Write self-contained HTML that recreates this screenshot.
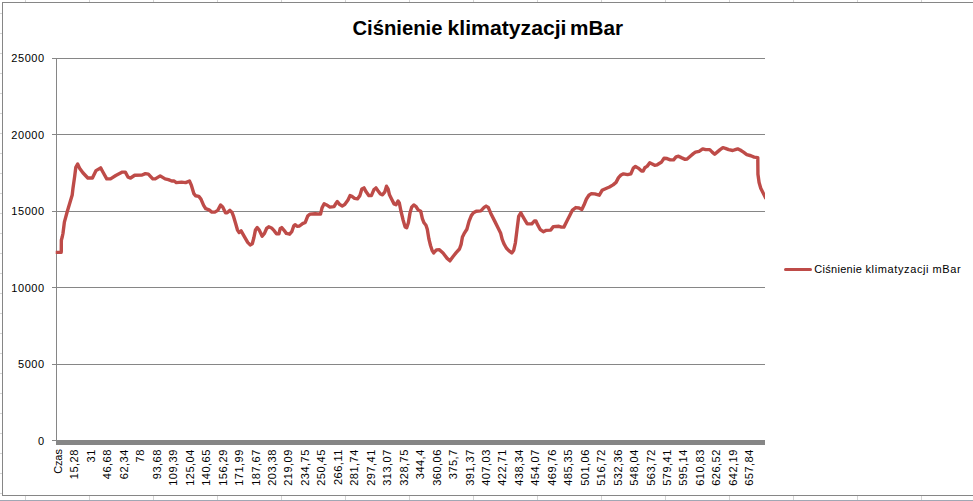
<!DOCTYPE html>
<html lang="pl"><head><meta charset="utf-8"><title>Ciśnienie klimatyzacji mBar</title>
<style>
html,body{margin:0;padding:0;background:#fff;overflow:hidden}
body{width:973px;height:501px;position:relative}
svg{position:absolute;left:0;top:0;display:block}
text{font-family:"Liberation Sans",sans-serif;fill:#000}
.g{stroke:#868686;stroke-width:1;shape-rendering:crispEdges;fill:none}
.s{stroke:#d4d4d4;stroke-width:1;shape-rendering:crispEdges}
.yl{font-size:11px;text-anchor:end;letter-spacing:0.6px}
.xl{font-size:11px;text-anchor:end;letter-spacing:0.5px}
</style></head><body>
<svg width="973" height="501" viewBox="0 0 973 501">
<rect x="0" y="0" width="973" height="501" fill="#fff"/>

<g class="s">
<line x1="25.5" y1="0" x2="25.5" y2="2"/><line x1="25.5" y1="496" x2="25.5" y2="500"/>
<line x1="89.5" y1="0" x2="89.5" y2="2"/><line x1="89.5" y1="496" x2="89.5" y2="500"/>
<line x1="153.5" y1="0" x2="153.5" y2="2"/><line x1="153.5" y1="496" x2="153.5" y2="500"/>
<line x1="217.5" y1="0" x2="217.5" y2="2"/><line x1="217.5" y1="496" x2="217.5" y2="500"/>
<line x1="281.5" y1="0" x2="281.5" y2="2"/><line x1="281.5" y1="496" x2="281.5" y2="500"/>
<line x1="345.5" y1="0" x2="345.5" y2="2"/><line x1="345.5" y1="496" x2="345.5" y2="500"/>
<line x1="409.5" y1="0" x2="409.5" y2="2"/><line x1="409.5" y1="496" x2="409.5" y2="500"/>
<line x1="473.5" y1="0" x2="473.5" y2="2"/><line x1="473.5" y1="496" x2="473.5" y2="500"/>
<line x1="537.5" y1="0" x2="537.5" y2="2"/><line x1="537.5" y1="496" x2="537.5" y2="500"/>
<line x1="601.5" y1="0" x2="601.5" y2="2"/><line x1="601.5" y1="496" x2="601.5" y2="500"/>
<line x1="665.5" y1="0" x2="665.5" y2="2"/><line x1="665.5" y1="496" x2="665.5" y2="500"/>
<line x1="729.5" y1="0" x2="729.5" y2="2"/><line x1="729.5" y1="496" x2="729.5" y2="500"/>
<line x1="793.5" y1="0" x2="793.5" y2="2"/><line x1="793.5" y1="496" x2="793.5" y2="500"/>
<line x1="857.5" y1="0" x2="857.5" y2="2"/><line x1="857.5" y1="496" x2="857.5" y2="500"/>
<line x1="921.5" y1="0" x2="921.5" y2="2"/><line x1="921.5" y1="496" x2="921.5" y2="500"/>
<line x1="0" y1="13.5" x2="2" y2="13.5"/>
<line x1="0" y1="33.5" x2="2" y2="33.5"/>
<line x1="0" y1="53.5" x2="2" y2="53.5"/>
<line x1="0" y1="73.5" x2="2" y2="73.5"/>
<line x1="0" y1="93.5" x2="2" y2="93.5"/>
<line x1="0" y1="113.5" x2="2" y2="113.5"/>
<line x1="0" y1="133.5" x2="2" y2="133.5"/>
<line x1="0" y1="153.5" x2="2" y2="153.5"/>
<line x1="0" y1="173.5" x2="2" y2="173.5"/>
<line x1="0" y1="193.5" x2="2" y2="193.5"/>
<line x1="0" y1="213.5" x2="2" y2="213.5"/>
<line x1="0" y1="233.5" x2="2" y2="233.5"/>
<line x1="0" y1="253.5" x2="2" y2="253.5"/>
<line x1="0" y1="273.5" x2="2" y2="273.5"/>
<line x1="0" y1="293.5" x2="2" y2="293.5"/>
<line x1="0" y1="313.5" x2="2" y2="313.5"/>
<line x1="0" y1="333.5" x2="2" y2="333.5"/>
<line x1="0" y1="353.5" x2="2" y2="353.5"/>
<line x1="0" y1="373.5" x2="2" y2="373.5"/>
<line x1="0" y1="393.5" x2="2" y2="393.5"/>
<line x1="0" y1="413.5" x2="2" y2="413.5"/>
<line x1="0" y1="433.5" x2="2" y2="433.5"/>
<line x1="0" y1="453.5" x2="2" y2="453.5"/>
<line x1="0" y1="473.5" x2="2" y2="473.5"/>
<line x1="0" y1="493.5" x2="2" y2="493.5"/>
</g>
<rect x="0" y="500" width="973" height="1" fill="#a0a7b4"/>
<path class="g" d="M980 2.5 H2.5 V495.5 H980"/>
<g class="g">
<line x1="52" y1="58.5" x2="765" y2="58.5"/>
<line x1="52" y1="134.5" x2="765" y2="134.5"/>
<line x1="52" y1="211.5" x2="765" y2="211.5"/>
<line x1="52" y1="287.5" x2="765" y2="287.5"/>
<line x1="52" y1="364.5" x2="765" y2="364.5"/>
<line x1="52" y1="440.5" x2="765" y2="440.5"/>
<line x1="56.5" y1="58" x2="56.5" y2="445"/>
</g>
<rect x="56" y="440" width="709" height="5" fill="#868686" shape-rendering="crispEdges"/>
<text class="yl" x="44.8" y="62">25000</text>
<text class="yl" x="44.8" y="139">20000</text>
<text class="yl" x="44.8" y="215">15000</text>
<text class="yl" x="44.8" y="292">10000</text>
<text class="yl" x="44.8" y="368">5000</text>
<text class="yl" x="44.8" y="445">0</text>
<text class="xl" style="letter-spacing:-0.1px" transform="translate(62.00,449.2) rotate(-90)">Czas</text>
<text class="xl" transform="translate(78.46,449.2) rotate(-90)">15,28</text>
<text class="xl" transform="translate(94.92,449.2) rotate(-90)">31</text>
<text class="xl" transform="translate(111.38,449.2) rotate(-90)">46,68</text>
<text class="xl" transform="translate(127.84,449.2) rotate(-90)">62,34</text>
<text class="xl" transform="translate(144.30,449.2) rotate(-90)">78</text>
<text class="xl" transform="translate(160.76,449.2) rotate(-90)">93,68</text>
<text class="xl" transform="translate(177.22,449.2) rotate(-90)">109,39</text>
<text class="xl" transform="translate(193.68,449.2) rotate(-90)">125,04</text>
<text class="xl" transform="translate(210.14,449.2) rotate(-90)">140,65</text>
<text class="xl" transform="translate(226.60,449.2) rotate(-90)">156,29</text>
<text class="xl" transform="translate(243.06,449.2) rotate(-90)">171,99</text>
<text class="xl" transform="translate(259.52,449.2) rotate(-90)">187,67</text>
<text class="xl" transform="translate(275.98,449.2) rotate(-90)">203,38</text>
<text class="xl" transform="translate(292.44,449.2) rotate(-90)">219,09</text>
<text class="xl" transform="translate(308.90,449.2) rotate(-90)">234,75</text>
<text class="xl" transform="translate(325.36,449.2) rotate(-90)">250,45</text>
<text class="xl" transform="translate(341.82,449.2) rotate(-90)">266,11</text>
<text class="xl" transform="translate(358.28,449.2) rotate(-90)">281,74</text>
<text class="xl" transform="translate(374.74,449.2) rotate(-90)">297,41</text>
<text class="xl" transform="translate(391.20,449.2) rotate(-90)">313,07</text>
<text class="xl" transform="translate(407.66,449.2) rotate(-90)">328,75</text>
<text class="xl" transform="translate(424.12,449.2) rotate(-90)">344,4</text>
<text class="xl" transform="translate(440.58,449.2) rotate(-90)">360,06</text>
<text class="xl" transform="translate(457.04,449.2) rotate(-90)">375,7</text>
<text class="xl" transform="translate(473.50,449.2) rotate(-90)">391,37</text>
<text class="xl" transform="translate(489.96,449.2) rotate(-90)">407,03</text>
<text class="xl" transform="translate(506.42,449.2) rotate(-90)">422,71</text>
<text class="xl" transform="translate(522.88,449.2) rotate(-90)">438,34</text>
<text class="xl" transform="translate(539.34,449.2) rotate(-90)">454,07</text>
<text class="xl" transform="translate(555.80,449.2) rotate(-90)">469,76</text>
<text class="xl" transform="translate(572.26,449.2) rotate(-90)">485,35</text>
<text class="xl" transform="translate(588.72,449.2) rotate(-90)">501,06</text>
<text class="xl" transform="translate(605.18,449.2) rotate(-90)">516,72</text>
<text class="xl" transform="translate(621.64,449.2) rotate(-90)">532,36</text>
<text class="xl" transform="translate(638.10,449.2) rotate(-90)">548,04</text>
<text class="xl" transform="translate(654.56,449.2) rotate(-90)">563,72</text>
<text class="xl" transform="translate(671.02,449.2) rotate(-90)">579,41</text>
<text class="xl" transform="translate(687.48,449.2) rotate(-90)">595,14</text>
<text class="xl" transform="translate(703.94,449.2) rotate(-90)">610,83</text>
<text class="xl" transform="translate(720.40,449.2) rotate(-90)">626,52</text>
<text class="xl" transform="translate(736.86,449.2) rotate(-90)">642,19</text>
<text class="xl" transform="translate(753.32,449.2) rotate(-90)">657,84</text>
<text id="title" y="34.6" font-weight="bold" font-size="20.7px"><tspan x="352.5" textLength="90" lengthAdjust="spacingAndGlyphs">Ciśnienie</tspan> <tspan x="447.5" textLength="119" lengthAdjust="spacingAndGlyphs">klimatyzacji</tspan> <tspan x="570" textLength="53" lengthAdjust="spacingAndGlyphs">mBar</tspan></text>
<line x1="785.5" y1="269.5" x2="810.5" y2="269.5" stroke="#be4b48" stroke-width="3" stroke-linecap="round"/>
<text id="leg" y="272.6" font-size="11px"><tspan x="814.3" textLength="47.5" lengthAdjust="spacing">Ciśnienie</tspan> <tspan x="865.5" textLength="63" lengthAdjust="spacing">klimatyzacji</tspan> <tspan x="932.5" textLength="28.2" lengthAdjust="spacing">mBar</tspan></text>
<clipPath id="pc"><rect x="55.5" y="58" width="709.5" height="382"/></clipPath>
<polyline clip-path="url(#pc)" points="55.43,252.38 61.18,252.38 61.27,251.32 61.35,240.21 62.34,236.51 62.99,233.22 64.39,222.14 67.27,211.45 72.2,195.0 73.02,187.89 74.67,176.38 75.82,167.33 77.63,164.04 79.6,168.16 82.89,172.76 87.82,178.02 92.43,178.02 96.05,170.62 100.65,167.83 102.62,171.44 106.73,178.84 110.52,178.84 115.78,175.56 122.36,172.1 125.32,172.1 128.11,177.2 130.58,178.02 134.69,175.23 142.09,175.06 145.38,173.58 148.34,174.08 152.78,178.84 155.25,178.84 160.18,175.88 165.11,178.84 168.4,179.67 171.69,180.98 174.16,180.98 176.3,182.63 181.56,182.13 185.67,182.63 189.45,180.98 191.42,185.42 193.89,193.64 195.54,195.78 198.82,196.44 200.96,199.07 203.62,205.42 205.76,208.71 209.04,209.86 211.84,212.16 214.8,212.16 217.76,210.36 220.56,205.09 222.69,207.07 225.49,212.82 227.13,212.82 229.93,210.36 232.07,212.49 233.71,216.93 235.85,224.33 237.49,230.09 239.14,232.56 241.11,230.91 244.07,236.17 247.69,242.42 250.16,244.89 252.29,243.74 253.94,237.49 255.42,230.09 257.23,227.62 259.2,230.09 262.16,236.17 264.46,233.38 266.6,228.45 268.74,226.8 271.53,227.95 274.33,230.91 276.47,233.87 278.93,233.87 280.25,228.45 281.73,227.62 283.87,230.09 286.33,233.38 289.62,234.2 291.76,231.73 293.73,225.98 295.05,224.66 297.02,226.31 299.49,225.98 302.29,223.84 305.25,222.36 307.71,216.11 309.85,214.14 315.11,213.81 320.54,214.14 322.02,207.89 324.16,203.78 326.62,204.93 329.91,207.07 334.02,206.57 335.67,203.78 337.31,201.64 339.78,204.6 342.25,205.92 344.71,204.6 348.0,200.0 350.0,195.62 351.97,196.44 354.6,198.42 357.4,198.91 359.87,195.62 361.84,189.04 363.98,187.89 366.12,191.84 368.91,195.62 371.38,195.62 373.84,189.87 375.98,187.89 377.96,190.69 380.42,193.98 382.56,194.8 384.86,191.84 386.51,186.25 388.15,189.04 389.47,194.8 391.93,199.73 394.07,203.84 396.05,204.67 398.02,201.05 399.33,203.02 400.98,211.24 402.95,219.47 405.09,226.87 406.73,227.69 408.38,222.76 410.02,212.89 411.67,207.13 413.81,205.0 415.78,206.31 418.25,209.93 420.71,211.24 422.36,218.64 424.0,222.76 425.97,225.22 427.29,229.33 428.93,239.2 430.58,245.78 432.22,250.71 433.65,252.95 436.44,249.83 439.4,249.66 443.02,252.95 447.13,258.38 449.93,260.85 452.89,256.73 456.18,252.62 459.47,249.01 461.11,244.4 462.43,237.0 464.07,233.71 466.87,229.27 469.01,221.38 471.31,215.62 473.45,212.83 476.24,211.18 480.85,210.85 484.13,207.4 486.11,206.08 488.25,207.4 490.71,213.16 494.82,221.38 498.11,227.96 500.58,232.89 502.22,239.47 503.87,243.58 506.33,248.02 508.8,250.65 511.76,252.95 513.73,250.16 515.38,242.76 517.02,229.6 518.67,216.44 520.81,212.83 522.78,216.44 525.25,220.56 527.22,223.84 531.82,223.84 534.29,221.05 535.93,221.05 537.58,224.67 540.05,229.27 543.33,231.74 545.8,230.42 550.74,230.09 553.2,226.64 558.96,226.31 561.42,227.13 563.89,227.13 567.18,220.56 570.0,214.96 572.47,210.02 575.76,207.56 579.04,208.05 581.84,209.53 583.98,205.09 586.44,199.01 588.91,195.22 591.38,193.58 594.67,193.91 599.27,195.22 602.07,190.29 604.86,188.97 609.47,187.0 613.09,184.86 616.05,182.4 618.51,177.63 620.98,175.0 623.45,173.84 627.56,174.67 630.85,173.84 633.31,168.09 635.45,166.44 638.25,168.09 641.53,171.05 643.18,171.05 644.82,167.76 647.29,166.12 649.76,162.83 652.22,163.98 654.69,165.29 657.16,164.8 661.27,162.33 664.06,158.22 667.02,158.55 670.31,159.87 673.6,159.87 676.07,156.91 678.53,156.25 681.82,157.89 685.11,159.37 687.09,159.04 690.87,155.76 693.33,153.62 695.45,152.13 699.07,151.31 702.69,148.84 705.65,149.67 709.76,149.67 712.22,152.13 714.69,154.27 717.16,152.13 720.12,149.67 722.91,147.69 725.38,148.35 728.67,149.67 732.78,150.49 735.25,149.67 737.71,148.84 740.18,150.0 743.47,152.13 746.76,154.6 750.87,155.75 754.16,157.07 757.78,157.56 757.94,174.33 759.09,182.56 760.74,188.31 762.38,191.6 764.52,195.71 766.0,198.67" fill="none" stroke="#be4b48" stroke-width="3.4" stroke-linejoin="round" stroke-linecap="butt"/>
</svg></body></html>
